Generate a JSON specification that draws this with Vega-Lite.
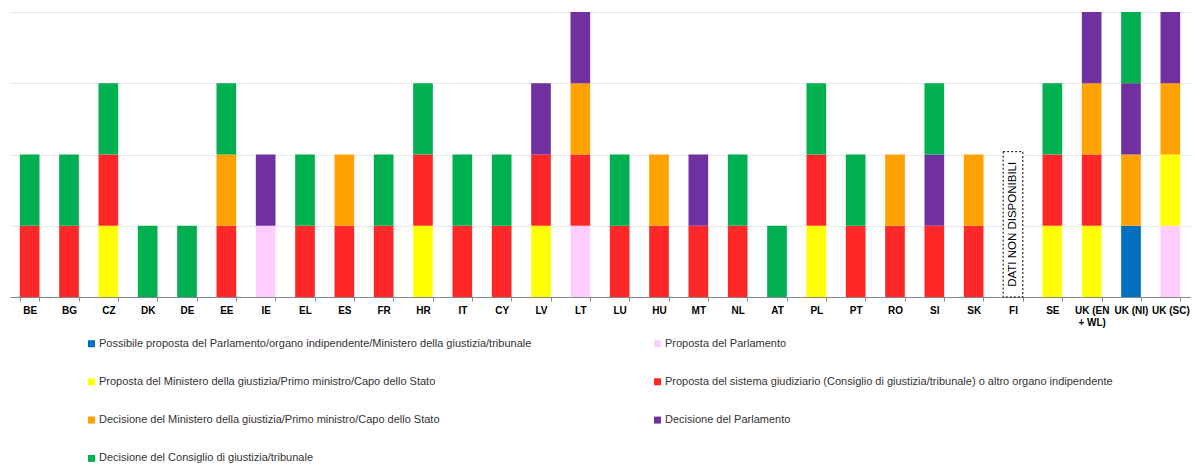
{
  "$schema": "https://vega.github.io/schema/vega-lite/v6.json",
  "width": 1180,
  "height": 285,
  "autosize": "none",
  "padding": {"left": 10, "top": 12, "right": 8, "bottom": 167},
  "background": "white",
  "config": {
    "font": "Liberation Sans",
    "view": {"stroke": null}
  },
  "datasets": {
    "cat": [
      {"c": 1, "cat": "Possibile proposta del Parlamento/organo indipendente/Ministero della giustizia/tribunale"},
      {"c": 2, "cat": "Proposta del Parlamento"},
      {"c": 3, "cat": "Proposta del Ministero della giustizia/Primo ministro/Capo dello Stato"},
      {"c": 4, "cat": "Proposta del sistema giudiziario (Consiglio di giustizia/tribunale) o altro organo indipendente"},
      {"c": 5, "cat": "Decisione del Ministero della giustizia/Primo ministro/Capo dello Stato"},
      {"c": 6, "cat": "Decisione del Parlamento"},
      {"c": 7, "cat": "Decisione del Consiglio di giustizia/tribunale"}
    ],
    "righe": [
      {"p": "BE", "c": 4}, {"p": "BE", "c": 7},
      {"p": "BG", "c": 4}, {"p": "BG", "c": 7},
      {"p": "CZ", "c": 3}, {"p": "CZ", "c": 4}, {"p": "CZ", "c": 7},
      {"p": "DK", "c": 7},
      {"p": "DE", "c": 7},
      {"p": "EE", "c": 4}, {"p": "EE", "c": 5}, {"p": "EE", "c": 7},
      {"p": "IE", "c": 2}, {"p": "IE", "c": 6},
      {"p": "EL", "c": 4}, {"p": "EL", "c": 7},
      {"p": "ES", "c": 4}, {"p": "ES", "c": 5},
      {"p": "FR", "c": 4}, {"p": "FR", "c": 7},
      {"p": "HR", "c": 3}, {"p": "HR", "c": 4}, {"p": "HR", "c": 7},
      {"p": "IT", "c": 4}, {"p": "IT", "c": 7},
      {"p": "CY", "c": 4}, {"p": "CY", "c": 7},
      {"p": "LV", "c": 3}, {"p": "LV", "c": 4}, {"p": "LV", "c": 6},
      {"p": "LT", "c": 2}, {"p": "LT", "c": 4}, {"p": "LT", "c": 5}, {"p": "LT", "c": 6},
      {"p": "LU", "c": 4}, {"p": "LU", "c": 7},
      {"p": "HU", "c": 4}, {"p": "HU", "c": 5},
      {"p": "MT", "c": 4}, {"p": "MT", "c": 6},
      {"p": "NL", "c": 4}, {"p": "NL", "c": 7},
      {"p": "AT", "c": 7},
      {"p": "PL", "c": 3}, {"p": "PL", "c": 4}, {"p": "PL", "c": 7},
      {"p": "PT", "c": 4}, {"p": "PT", "c": 7},
      {"p": "RO", "c": 4}, {"p": "RO", "c": 5},
      {"p": "SI", "c": 4}, {"p": "SI", "c": 6}, {"p": "SI", "c": 7},
      {"p": "SK", "c": 4}, {"p": "SK", "c": 5},
      {"p": "SE", "c": 3}, {"p": "SE", "c": 4}, {"p": "SE", "c": 7},
      {"p": "UK (EN + WL)", "c": 3}, {"p": "UK (EN + WL)", "c": 4}, {"p": "UK (EN + WL)", "c": 5}, {"p": "UK (EN + WL)", "c": 6},
      {"p": "UK (NI)", "c": 1}, {"p": "UK (NI)", "c": 5}, {"p": "UK (NI)", "c": 6}, {"p": "UK (NI)", "c": 7},
      {"p": "UK (SC)", "c": 2}, {"p": "UK (SC)", "c": 3}, {"p": "UK (SC)", "c": 5}, {"p": "UK (SC)", "c": 6}
    ],
    "nd": [
      {"p": "FI", "h": 2.04, "testo": "DATI NON DISPONIBILI"}
    ]
  },
  "encoding": {
    "x": {
      "field": "p",
      "type": "nominal",
      "title": null,
      "scale": {
        "domain": ["BE", "BG", "CZ", "DK", "DE", "EE", "IE", "EL", "ES", "FR", "HR", "IT", "CY", "LV", "LT", "LU", "HU", "MT", "NL", "AT", "PL", "PT", "RO", "SI", "SK", "FI", "SE", "UK (EN + WL)", "UK (NI)", "UK (SC)"],
        "paddingInner": 0.5,
        "paddingOuter": 0.25
      },
      "axis": {
        "labelAngle": 0,
        "tickBand": "extent",
        "domainColor": "#888888",
        "tickColor": "#888888",
        "tickSize": 4,
        "labelFontSize": 10,
        "labelFontWeight": "bold",
        "labelColor": "#000000",
        "labelPadding": 4,
        "labelLimit": 0,
        "labelExpr": "datum.label == 'UK (EN + WL)' ? ['UK (EN', '+ WL)'] : datum.label"
      }
    }
  },
  "layer": [
    {
      "data": {"name": "righe"},
      "transform": [
        {"lookup": "c", "from": {"data": {"name": "cat"}, "key": "c", "fields": ["cat"]}}
      ],
      "mark": {"type": "bar"},
      "encoding": {
        "y": {
          "aggregate": "count",
          "type": "quantitative",
          "title": null,
          "scale": {"domain": [0, 4]},
          "axis": {
            "values": [0, 1, 2, 3, 4],
            "labels": false,
            "ticks": false,
            "domain": false,
            "gridColor": "#e8e8e8",
            "title": null
          }
        },
        "color": {
          "field": "cat",
          "type": "nominal",
          "scale": {
            "domain": [
              "Possibile proposta del Parlamento/organo indipendente/Ministero della giustizia/tribunale",
              "Proposta del Parlamento",
              "Proposta del Ministero della giustizia/Primo ministro/Capo dello Stato",
              "Proposta del sistema giudiziario (Consiglio di giustizia/tribunale) o altro organo indipendente",
              "Decisione del Ministero della giustizia/Primo ministro/Capo dello Stato",
              "Decisione del Parlamento",
              "Decisione del Consiglio di giustizia/tribunale"
            ],
            "range": ["#0070c0", "#ffccff", "#ffff00", "#ff2828", "#ffa200", "#7030a0", "#00b050"]
          },
          "legend": {
            "title": null,
            "orient": "none",
            "direction": "horizontal",
            "legendX": 76,
            "legendY": 326,
            "columns": 2,
            "symbolType": "square",
            "symbolSize": 49,
            "symbolStrokeWidth": 0,
            "labelFontSize": 11,
            "labelColor": "#333333",
            "labelLimit": 800,
            "labelOffset": 2,
            "rowPadding": 26.3,
            "columnPadding": 120
          }
        },
        "order": {"field": "c", "type": "quantitative", "sort": "ascending"}
      }
    },
    {
      "data": {"name": "nd"},
      "mark": {"type": "bar", "fill": "white", "stroke": "#000000", "strokeWidth": 1, "strokeDash": [2, 2]},
      "encoding": {
        "y": {"field": "h", "type": "quantitative"}
      }
    },
    {
      "data": {"name": "nd"},
      "mark": {"type": "text", "angle": 270, "fontSize": 11.5, "color": "#000000", "align": "center", "baseline": "middle"},
      "encoding": {
        "y": {"datum": 1.02, "type": "quantitative"},
        "text": {"field": "testo"}
      }
    }
  ]
}
